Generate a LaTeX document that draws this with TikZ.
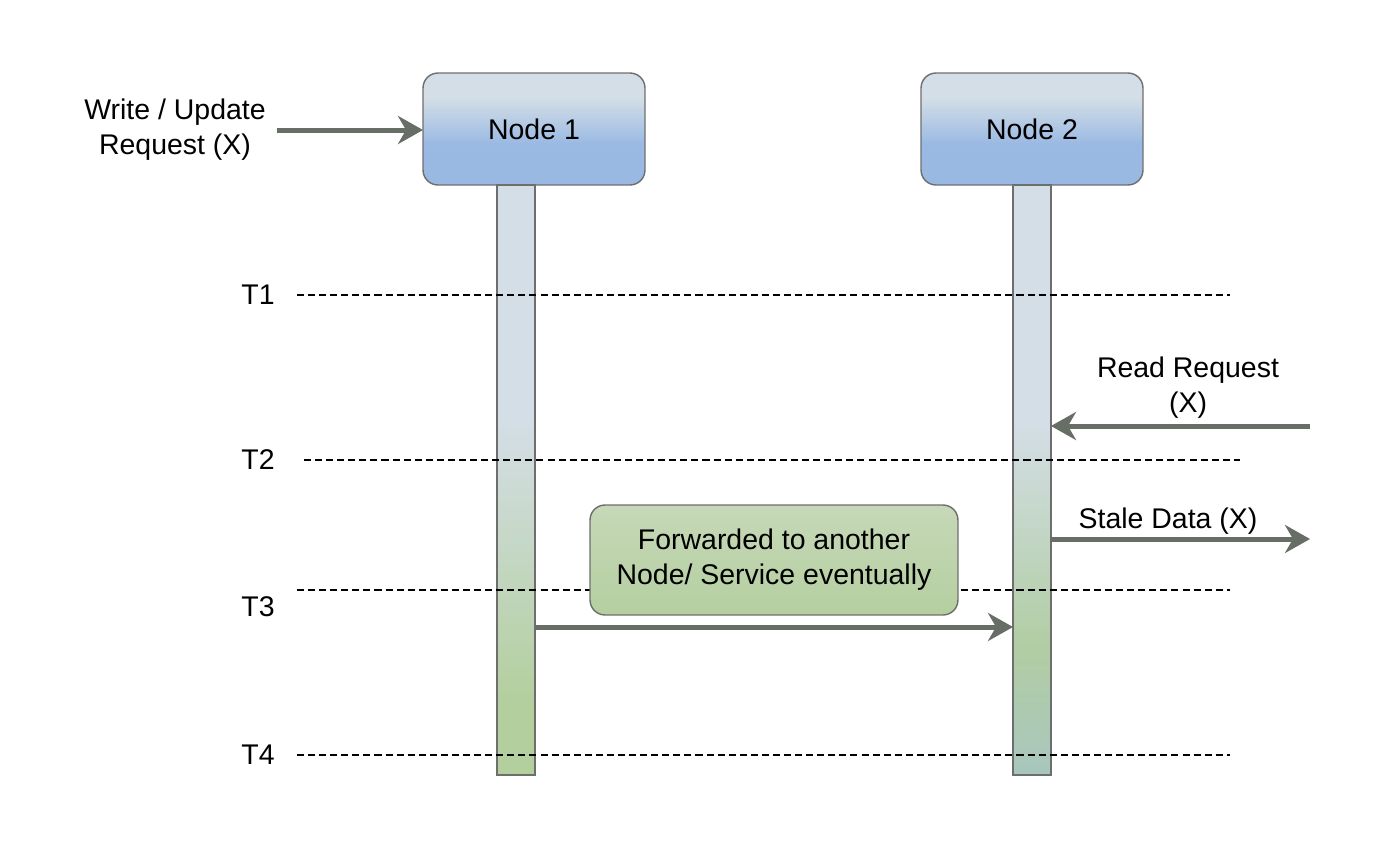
\documentclass[tikz,border=0pt]{standalone}
\usepackage{fontspec}
\setmainfont{Liberation Sans}
\usetikzlibrary{arrows.meta,positioning}

\definecolor{nodetop}{HTML}{D4DEE6}
\definecolor{nodebot}{HTML}{99B9E3}
\definecolor{lifegreen}{HTML}{B3CF9D}
\definecolor{lifemix}{HTML}{A9C6BE}
\definecolor{notetop}{HTML}{C6D8B8}
\definecolor{notebot}{HTML}{B5CFA0}
\definecolor{arrowgray}{HTML}{666E66}
\definecolor{edgegray}{HTML}{6E6E6E}

\pgfdeclareverticalshading{nodeshade}{100bp}{color(0bp)=(nodebot); color(25bp)=(nodebot);
	color(43bp)=(nodebot); color(64bp)=(nodetop); color(75bp)=(nodetop); color(100bp)=(nodetop)}
\pgfdeclareverticalshading{lifeshadeA}{100bp}{color(0bp)=(lifegreen); color(25bp)=(lifegreen);
	color(31bp)=(lifegreen); color(55bp)=(nodetop); color(75bp)=(nodetop); color(100bp)=(nodetop)}
\pgfdeclareverticalshading{lifeshadeB}{100bp}{color(0bp)=(lifemix); color(25bp)=(lifemix);
	color(36bp)=(lifegreen!80!lifemix); color(55bp)=(nodetop); color(75bp)=(nodetop); color(100bp)=(nodetop)}

\tikzset{
	nodebox/.style={draw=edgegray, line width=0.8pt, rounded corners=0.3cm, shading=nodeshade,
		minimum width=4.44cm, minimum height=2.24cm},
	lifeline/.style={draw=edgegray, line width=1.1pt, minimum width=0.76cm, minimum height=11.8cm,
		inner sep=0pt, outer sep=0pt},
	notebox/.style={draw=edgegray, line width=0.8pt, rounded corners=0.3cm, top color=notetop,
		bottom color=notebot, minimum width=7.36cm, minimum height=2.2cm, align=center},
	timeline/.style={line width=0.9pt, dash pattern=on 4pt off 2.3pt},
	msg/.style={draw=arrowgray, line width=0.1cm, -{Stealth[length=0.5cm,width=0.56cm,inset=0.16cm]}},
	tlabel/.style={inner sep=0pt}
}

\begin{document}
\begin{tikzpicture}[x=0.02cm,y=-0.02cm,font=\fontsize{16.2}{19.8}\selectfont]
		\useasboundingbox (0,0) rectangle (1400,849);

		\node[nodebox, outer sep=0pt] (node1) at (534,129) {Node 1};
		\node[nodebox, outer sep=0pt] (node2) at (1032,129) {Node 2};

		\node[lifeline, shading=lifeshadeA, anchor=north] (life1) at (516,185) {};
		\node[lifeline, shading=lifeshadeB, below=0pt of node2] (life2) {};

		\foreach \tname/\ty/\ly/\xa/\xb in {T1/295/295/297/1230, T2/460/460/304/1240,
			T3/607/590/297/1230, T4/755/755/297/1230}{
			\node[tlabel] (\tname) at (258,\ty) {\tname};
			\draw[timeline] (\xa,\ly) -- (\xb,\ly);
		}

		\node[notebox] (fwd) at (774,560) {Forwarded to another\\Node/ Service eventually};

		% requests and replies
		\coordinate (wstart) at (277,130);
		\draw[msg] (wstart) -- (node1.west |- wstart);
		\node[align=center] (wlabel) at (175,130) {Write / Update\\Request (X)};

		\coordinate (rstart) at (1310,426);
		\draw[msg] (rstart) -- (life2.east |- rstart);
		\node[align=center] (rlabel) at (1188,388) {Read Request\\(X)};

		\coordinate (send) at (1310,539);
		\draw[msg] (life2.east |- send) -- (send);
		\node (slabel) at (1168,521) {Stale Data (X)};

		\coordinate (fy) at (0,627);
		\draw[msg] (life1.east |- fy) -- (life2.west |- fy);
\end{tikzpicture}
\end{document}
